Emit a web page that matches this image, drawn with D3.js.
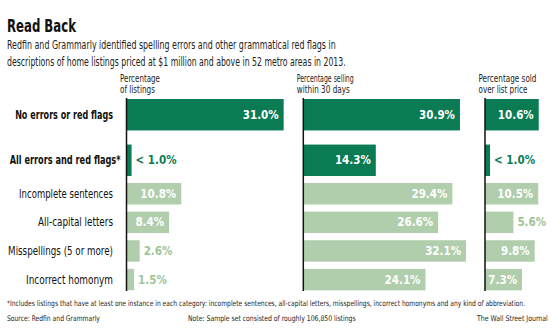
<!DOCTYPE html>
<html>
<head>
<meta charset="utf-8">
<script src="https://cdn.jsdelivr.net/npm/d3@7"></script>
<style>
    body { margin: 0; background: #ffffff; }
    svg text { font-family: "DejaVu Sans Condensed", "Liberation Sans Narrow", "Roboto", sans-serif; }
</style>
</head>
<body>
<div id="plot"></div>
<script>
// data
var categories = ["No errors or red flags", "All errors and red flags*", "Incomplete sentences",
    "All-capital letters", "Misspellings (5 or more)", "Incorrect homonym"];
var featured = [true, true, false, false, false, false];
var listings = [31.0, 1.0, 10.8, 8.4, 2.6, 1.5];
var listingsLessThan = [false, true, false, false, false, false];
var selling30 = [30.9, 14.3, 29.4, 26.6, 32.1, 24.1];
var selling30LessThan = [false, false, false, false, false, false];
var overList = [10.6, 1.0, 10.5, 5.6, 9.8, 7.3];
var overListLessThan = [false, true, false, false, false, false];
var headers = [["Percentage", "of listings"], ["Percentage selling", "within 30 days"], ["Percentage sold", "over list price"]];

var DARK = "#0b7b53";
var LIGHT = "#b0ceac";
var LIGHT_TEXT = "#9cc498";

plotBarChart();

// squeeze a text horizontally so it takes the given width (the font is wider than the original)
function fitText(node, target) {
    var t = d3.select(node);
    var x = +t.attr("x") || 0, y = +t.attr("y") || 0;
    var w = node.getComputedTextLength();
    var k = w > 0 ? target / w : 1;
    t.attr("x", 0).attr("y", 0)
        .attr("transform", "translate(" + x + "," + y + ") scale(" + k + ",1)");
}

function plotBarChart() {
    var width = 555;
    var height = 331;

    var svg = d3.select("#plot").append("svg").attr("width", width).attr("height", height);
    svg.append("rect").attr("width", width).attr("height", height).attr("fill", "#fff");

    // titles
    var title = svg.append("text").attr("x", 7).attr("y", 32)
        .attr("font-size", 18).attr("font-weight", "bold").attr("fill", "#111")
        .text("Read Back");
    fitText(title.node(), 69);
    var sub = ["Redfin and Grammarly identified spelling errors and other grammatical red flags in",
        "descriptions of home listings priced at $1 million and above in 52 metro areas in 2013."];
    var subLen = [329, 339];
    sub.forEach(function(s, i) {
        var t = svg.append("text").attr("x", 7).attr("y", 49 + i * 17)
            .attr("font-size", 12).attr("fill", "#222")
            .text(s);
        fitText(t.node(), subLen[i]);
    });

    // row positions: two featured rows on top, four detail rows below
    var topRows = categories.filter(function(c, i) { return featured[i]; });
    var subRows = categories.filter(function(c, i) { return !featured[i]; });
    var yTop = d3.scaleBand().domain(topRows).range([99, 176]).paddingInner(0.31);
    var ySub = d3.scaleBand().domain(subRows).range([183, 290.3]).paddingInner(0.25);
    function yPos(c) { return topRows.includes(c) ? yTop(c) : ySub(c); }
    function bandH(c) { return topRows.includes(c) ? yTop.bandwidth() : ySub.bandwidth(); }

    // row labels (the asterisk hangs past the right edge)
    var labelLen = [98, 111, 94, 75, 105, 87];
    svg.append("g").selectAll("text")
        .data(categories)
        .enter()
        .append("text")
        .attr("x", function(d, i) { return i == 1 ? 120.5 : 113; })
        .attr("y", function(d) { return yPos(d) + bandH(d) / 2 + 4; })
        .attr("text-anchor", "end")
        .attr("font-size", 11.5)
        .attr("font-weight", function(d, i) { return featured[i] ? "bold" : "normal"; })
        .attr("fill", "#111")
        .text(function(d) { return d; })
        .each(function(d, i) { fitText(this, labelLen[i]); });

    var xScale = d3.scaleLinear().domain([0, 10]).range([0, 50.7]);

    var panels = [
        {x0: 126.5, values: listings, lt: listingsLessThan, head: headers[0], headLen: [40, 35]},
        {x0: 303.3, values: selling30, lt: selling30LessThan, head: headers[1], headLen: [57, 53]},
        {x0: 485, values: overList, lt: overListLessThan, head: headers[2], headLen: [58, 49]}
    ];

    panels.forEach(function(p) {
        var g = svg.append("g").attr("transform", "translate(" + p.x0 + ",0)");
        var rows = categories.map(function(c, i) {
            return {cat: c, value: p.values[i], lt: p.lt[i], feat: featured[i]};
        });

        g.selectAll("text.head")
            .data(p.head)
            .enter()
            .append("text")
            .attr("class", "head")
            .attr("x", -6.5)
            .attr("y", function(d, i) { return 82 + i * 11; })
            .attr("font-size", 10.5)
            .attr("fill", "#222")
            .text(function(d) { return d; })
            .each(function(d, i) { fitText(this, p.headLen[i]); });

        g.selectAll("rect")
            .data(rows)
            .enter()
            .append("rect")
            .attr("x", 0)
            .attr("y", function(d) { return yPos(d.cat); })
            .attr("width", function(d) { return xScale(d.value); })
            .attr("height", function(d) { return bandH(d.cat); })
            .attr("fill", function(d) { return d.feat ? DARK : LIGHT; });

        g.selectAll("text.val")
            .data(rows)
            .enter()
            .append("text")
            .attr("class", "val")
            .attr("x", function(d) {
                return d.value >= 7 ? xScale(d.value) - 5 : xScale(d.value) + 4;
            })
            .attr("y", function(d) { return yPos(d.cat) + bandH(d.cat) / 2 + 4; })
            .attr("text-anchor", function(d) { return d.value >= 7 ? "end" : "start"; })
            .attr("font-size", 11.5)
            .attr("font-weight", "bold")
            .attr("fill", function(d) {
                if (d.value >= 7) return "#fff";
                return d.feat ? DARK : LIGHT_TEXT;
            })
            .text(function(d) { return (d.lt ? "< " : "") + d.value.toFixed(1) + "%"; });

        g.append("line")
            .attr("x1", 0).attr("x2", 0)
            .attr("y1", 98).attr("y2", 291)
            .attr("stroke", "#111").attr("stroke-width", 1.5);
    });

    // footer
    var foot = [
        {x: 7, y: 306, w: 518, s: "*Includes listings that have at least one instance in each category: incomplete sentences, all-capital letters, misspellings, incorrect homonyms and any kind of abbreviation."},
        {x: 7, y: 321, w: 93, s: "Source: Redfin and Grammarly"},
        {x: 188, y: 321, w: 168, s: "Note: Sample set consisted of roughly 106,850 listings"},
        {x: 477, y: 321, w: 71, s: "The Wall Street Journal"}
    ];
    svg.append("g").selectAll("text")
        .data(foot)
        .enter()
        .append("text")
        .attr("x", function(d) { return d.x; })
        .attr("y", function(d) { return d.y; })
        .attr("font-size", 7.8)
        .attr("fill", "#222")
        .text(function(d) { return d.s; })
        .each(function(d) { fitText(this, d.w); });
}
</script>
</body>
</html>
